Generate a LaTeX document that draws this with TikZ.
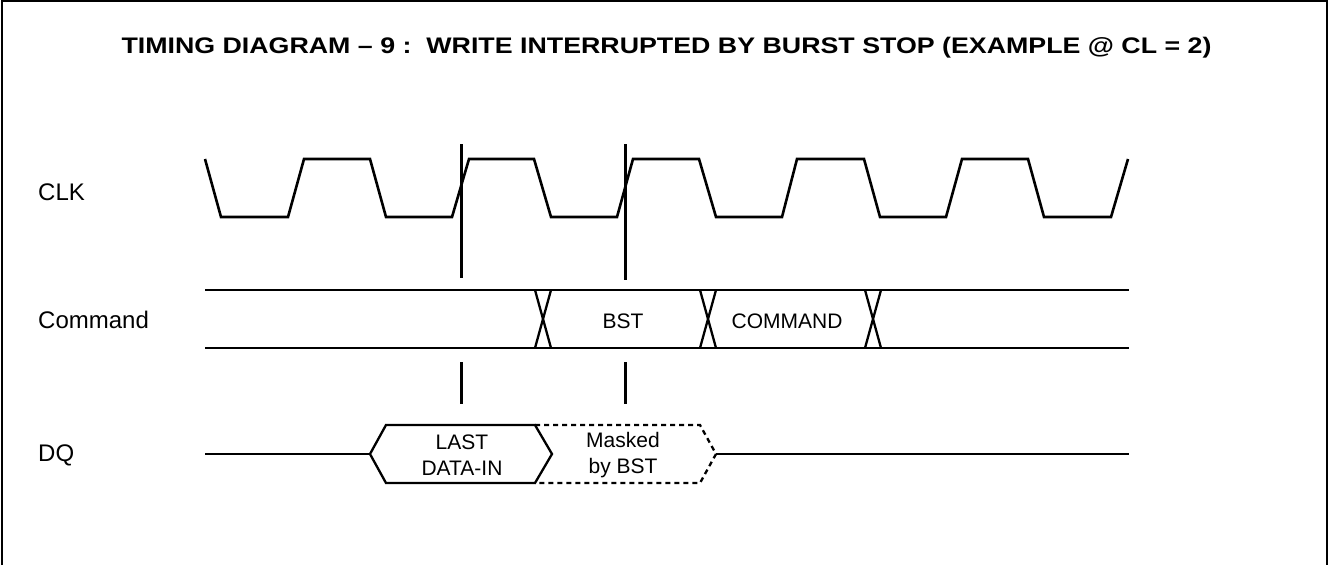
\documentclass[tikz,border=0pt]{standalone}
\usepackage{fontspec}
\usepackage{graphicx}
\setmainfont{Liberation Sans}
\begin{document}
\begin{tikzpicture}[x=1pt,y=-1pt,
  sig/.style={line width=2.6pt,line join=miter},
  bus/.style={line width=2.3pt},
  marker/.style={line width=3pt},
  frame/.style={line width=2.2pt},
  lbl/.style={font=\fontsize{24}{28}\selectfont,anchor=base west,inner sep=0pt},
  txt/.style={font=\fontsize{21}{26}\selectfont,align=center,inner sep=0pt},
  ttl/.style={font=\fontsize{22.5}{26}\selectfont\bfseries,inner sep=0pt,anchor=base}]
\useasboundingbox (0,0) rectangle (1329,565);
% frame (open at bottom)
\draw[frame] (2,565) -- (2,1) -- (1327,1) -- (1327,565);
% title
\node[ttl] (title) at (666.5,53) {\scalebox{1.19}[1]{TIMING DIAGRAM -- 9 :\ \ WRITE INTERRUPTED BY BURST STOP (EXAMPLE @ CL = 2)}};
% labels
\node[lbl] (clklbl) at (38,200) {CLK};
\node[lbl] (cmdlbl) at (38,328) {Command};
\node[lbl] (dqlbl) at (38,461) {DQ};
% clock
\draw[sig] (205,159)--(221,217)--(288,217)--(304,159)--(370,159)--(386,217)--(452,217)--(469,159)--(534,159)--(551,217)--(617,217)--(633,159)--(699,159)--(716,217)--(782,217)--(797,159)--(864,159)--(880,217)--(946,217)--(962,159)--(1028,159)--(1044,217)--(1111,217)--(1128,159);
% markers
\draw[marker] (461,144) -- (461,278);
\draw[marker] (461,362) -- (461,404);
\draw[marker] (625,144) -- (625,280);
\draw[marker] (625,362) -- (625,404);
% command bus
\draw[bus] (205,290) -- (1129,290);
\draw[bus] (205,348) -- (1129,348);
\foreach \cx in {543,708,873}{
  \draw[bus] (\cx-8,290) -- (\cx+8,348);
  \draw[bus] (\cx-8,348) -- (\cx+8,290);
}
\node[txt] (bst) at (623,321) {BST};
\node[txt] (cmd) at (787,321) {COMMAND};
% DQ
\draw[bus] (205,454) -- (370,454);
\draw[bus] (370,454) -- (386,425) -- (535,425) -- (552,454) -- (535,483) -- (386,483) -- cycle;
\draw[bus,dash pattern=on 5pt off 4pt] (535,425) -- (700,425) -- (716,454) -- (700,483) -- (535,483);
\draw[bus] (716,454) -- (1129,454);
\node[txt] (last) at (462,455) {LAST\\DATA-IN};
\node[txt] (masked) at (623,455) {Masked\\by BST};
\end{tikzpicture}
\end{document}
